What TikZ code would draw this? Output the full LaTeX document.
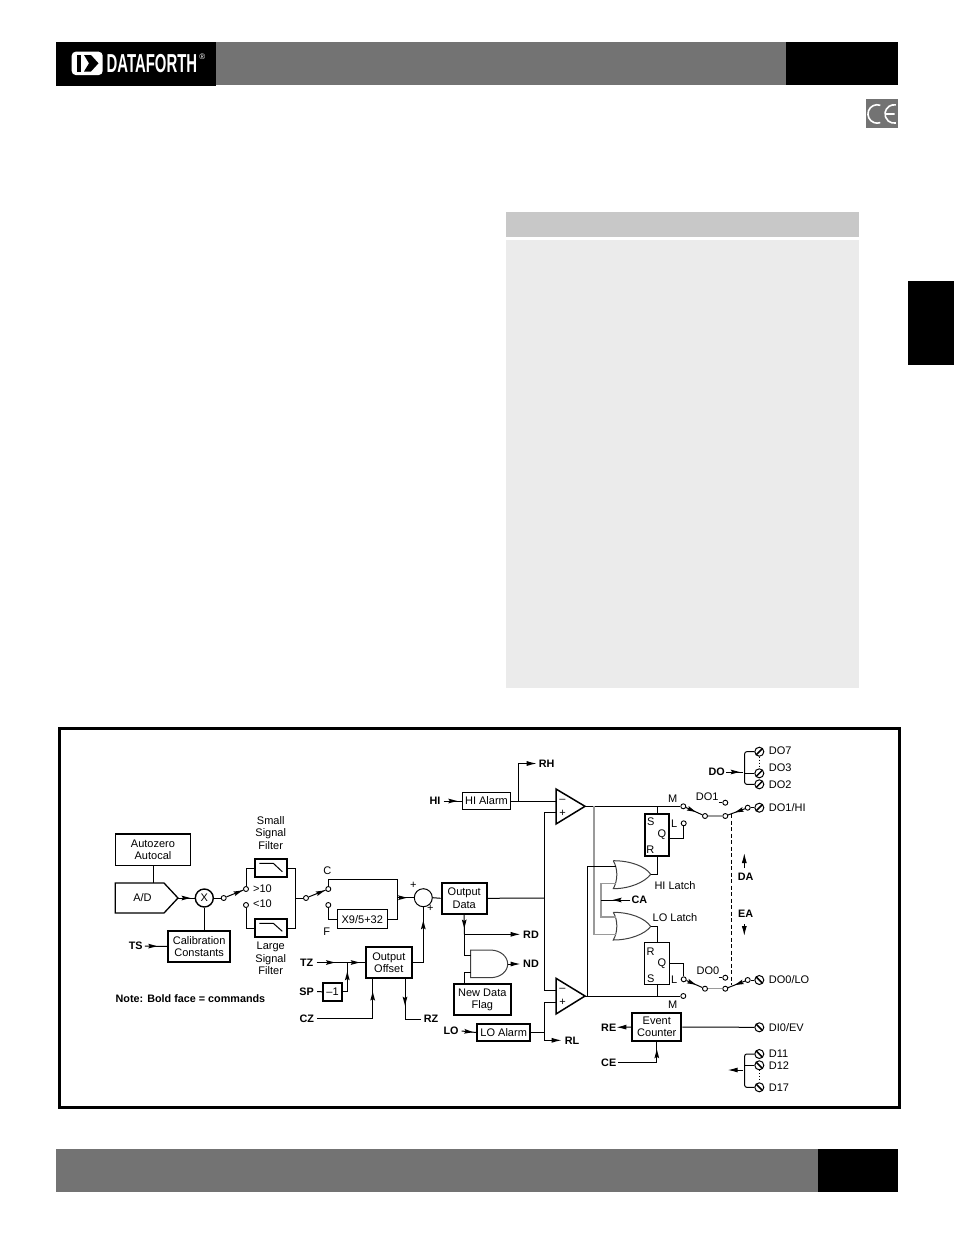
\documentclass[tikz,border=0pt]{standalone}
\usepackage{fontspec}
\setmainfont{Liberation Sans}
\usetikzlibrary{arrows.meta,decorations.markings}
\definecolor{hdr}{HTML}{737373}
\definecolor{wg}{HTML}{9A9A9A}
\definecolor{tblh}{HTML}{C8C8C8}
\definecolor{tblb}{HTML}{EBEBEB}
\tikzset{
  wire/.style={line width=1pt,draw=black},
  gwire/.style={line width=1.3pt,draw=wg},
  tipa/.style={-{Latex[length=10pt,width=5pt]}},
  marr/.style={postaction={decorate,decoration={markings,mark=at position #1 with {\fill[black] (-9pt,-2.4pt) -- (0pt,0pt) -- (-9pt,2.4pt) -- (-7.5pt,0pt) -- cycle;}}}},
  box/.style={draw,rectangle,inner sep=0pt,line width=1.3pt,align=center,font=\fontsize{11}{12.3}\selectfont,fill=white},
  tbox/.style={box,line width=2pt},
  nbox/.style={box,line width=1pt},
  lab/.style={inner sep=0pt,font=\fontsize{11}{12.3}\selectfont,align=center},
  blab/.style={inner sep=0pt,font=\fontsize{10.8}{12}\selectfont\bfseries,align=center},
  oc/.style={draw,circle,fill=white,inner sep=0pt,minimum size=5pt,line width=0.9pt},
  screwf/.style={draw,circle,fill=white,inner sep=0pt,minimum size=9pt,line width=1pt,
    path picture={\draw[line width=1.5pt] (path picture bounding box.south west)--(path picture bounding box.north east);}},
  screwb/.style={draw,circle,fill=white,inner sep=0pt,minimum size=9pt,line width=1pt,
    path picture={\draw[line width=1.5pt] (path picture bounding box.north west)--(path picture bounding box.south east);}},
  gate/.style={line width=1pt,draw=black!75,fill=white},
  tri/.style={line width=1.5pt,draw=black,fill=white},
}
\begin{document}
\begin{tikzpicture}[x=1pt,y=-1pt]
\useasboundingbox (0,0) rectangle (954,1235);
% page furniture
\fill[black] (55.7,42) rectangle (216,86);
\fill[hdr] (216,42) rectangle (786,85);
\fill[black] (786,42) rectangle (898,85);
\fill[hdr] (56,1149) rectangle (818,1192);
\fill[black] (818,1149) rectangle (898,1192);
\fill[hdr] (866,99) rectangle (897.5,128);
\draw[white,line width=1.6pt] (880.3,105.3) arc[start angle=-70,end angle=-290,radius=9.2];
\draw[white,line width=1.6pt] (895.8,104.9) arc[start angle=-80,end angle=-280,radius=9.2] (886,114) -- (894.5,114);
\fill[tblh] (506,212) rectangle (859,237);
\fill[tblb] (506,240) rectangle (859,688);
\fill[black] (908,281) rectangle (954,365);
% logo
\fill[white,rounded corners=4pt] (71.7,51.7) rectangle (102.7,75);
\fill[black] (76.5,55) rectangle (80.5,71.5);
\fill[black] (84,55) -- (91,55) -- (98.5,63.3) -- (91,71.5) -- (84,71.5) -- (89,63.3) -- cycle;
\node[white,inner sep=0pt,anchor=west] (logo) at (106.5,63.3) {\scalebox{0.573}[1.0]{\fontsize{26}{26}\selectfont\bfseries DATAFORTH}};
\node[white,inner sep=0pt] (reg) at (202.2,57) {\fontsize{8}{8}\selectfont ®};
% frame
\draw[line width=3pt] (59.5,728.5) rectangle (899,1107.5);
% gates and comparators
\coordinate (ortop) at (615.5,866.7);\coordinate (orbot) at (615.5,883.3);\coordinate (orout) at (650.7,874.3);
\coordinate (lotop) at (615.5,917);\coordinate (lobot) at (615.5,934.3);\coordinate (loout) at (650.7,926.5);
\path[gate] (613.3,860.7) .. controls (630,860.7) and (645,866) .. (650.7,874.3) .. controls (645,882) and (630,888.7) .. (613.3,888.7) .. controls (618,880) and (618,869) .. (613.3,860.7);
\path[gate] (613.3,912.3) .. controls (630,912.3) and (645,918) .. (650.7,926.5) .. controls (645,934) and (630,940) .. (613.3,940) .. controls (618,932) and (618,920) .. (613.3,912.3);
\path[gate] (470.7,950) -- (490,950) .. controls (501,950) and (507.7,957) .. (507.7,964) .. controls (507.7,971) and (501,977.7) .. (490,977.7) -- (470.7,977.7) -- cycle;
\path[tri] (556,789) -- (585,806.3) -- (556,824) -- cycle;
\path[tri] (556,978.3) -- (585,996) -- (556,1014) -- cycle;
\coordinate (c1out) at (585,806.3);\coordinate (c1m) at (556,801);\coordinate (c1p) at (556,812.7);
\coordinate (c2out) at (585,996);\coordinate (c2m) at (556,990);\coordinate (c2p) at (556,1002.3);
\coordinate (andin1) at (470.7,955);\coordinate (andin2) at (470.7,972.3);\coordinate (andout) at (507.7,964);
\node[lab] (c1minus) at (562.5,801) {–};\node[lab] (c1plus) at (562.5,813) {+};
\node[lab] (c2minus) at (562.5,990) {–};\node[lab] (c2plus) at (562.5,1002.5) {+};
% boxes
\node[box,minimum width=75.4pt,minimum height=31.3pt] (auto) at (153,849.7) {Autozero\\Autocal};
\path[box] (115.3,883) -- (164,883) -- (178,898) -- (164,913) -- (115.3,913) -- cycle;
\node[lab] (ad) at (142.5,898) {A/D};
\coordinate (adtip) at (178,898);\coordinate (adtop) at (153,883);
\node[box,circle,minimum size=18pt,line width=1.4pt] (mult) at (204.3,898) {X};
\node[tbox,minimum width=61.7pt,minimum height=31pt] (cal) at (199.2,946.5) {Calibration\\Constants};
\node[tbox,minimum width=32pt,minimum height=18pt] (sf) at (270.7,868) {};
\node[tbox,minimum width=32pt,minimum height=18pt] (lf) at (270.7,928) {};
\draw[line width=1pt] (259.3,863.3) -- (273.3,863.3) -- (282.3,871.7);
\draw[line width=1pt] (259.3,923.3) -- (273.3,923.3) -- (282.3,931.3);
\node[nbox,minimum width=50pt,minimum height=18.7pt] (conv) at (362.3,919.3) {X9/5+32};
\node[box,circle,minimum size=18pt,line width=1pt] (sum) at (423.3,897.7) {};
\node[tbox,minimum width=45pt,minimum height=31.3pt] (odata) at (464.2,898.3) {Output\\Data};
\node[tbox,minimum width=45.7pt,minimum height=31.6pt] (ooff) at (388.8,962.5) {Output\\Offset};
\node[tbox,minimum width=18.4pt,minimum height=18.3pt] (neg) at (332.5,991.8) {–1};
\node[tbox,minimum width=57.3pt,minimum height=31.6pt] (flag) at (482.3,999.5) {New Data\\Flag};
\node[nbox,minimum width=48.4pt,minimum height=16.6pt] (hia) at (486.5,801) {HI Alarm};
\node[tbox,minimum width=53.3pt,minimum height=17.6pt] (loa) at (503.7,1032.5) {LO Alarm};
\node[tbox,minimum width=49pt,minimum height=28.6pt] (evt) at (656.8,1027) {Event\\Counter};
\node[box,line width=1.8pt,minimum width=24.6pt,minimum height=41.7pt] (sr1) at (657,834.9) {};
\node[box,line width=1pt,minimum width=24.6pt,minimum height=41.6pt] (sr2) at (657,963.5) {};
\node[lab] (s1) at (650.7,821.7) {S};\node[lab] (q1) at (662,835) {Q};\node[lab] (r1) at (650.3,849.3) {R};
\node[lab] (r2) at (650.5,952) {R};\node[lab] (q2) at (662,963.5) {Q};\node[lab] (s2) at (650.7,978.3) {S};
% terminals
\node[oc] (a1) at (223.7,898) {};
\node[oc] (g10) at (246,889) {};
\node[oc] (l10) at (246,905) {};
\node[oc] (a2) at (306,898) {};
\node[oc] (cc) at (328.3,889) {};
\node[oc] (ff) at (328.3,905) {};
\node[oc] (m1) at (683.3,806.3) {};
\node[oc] (l1) at (683.7,823.3) {};
\node[oc] (p1) at (705,816) {};
\node[oc] (p2) at (725.3,816) {};
\node[oc] (do1c) at (725.3,802.7) {};
\node[oc] (t1) at (747.7,807.7) {};
\node[screwf] (hi) at (759.3,807.7) {};
\node[oc] (l2) at (683.7,979.3) {};
\node[oc] (m2) at (683.3,996) {};
\node[oc] (p3) at (705,988.7) {};
\node[oc] (p4) at (725.3,988.7) {};
\node[oc] (do0c) at (725.3,977.7) {};
\node[oc] (t2) at (747.7,980) {};
\node[screwb] (lo) at (759.3,980) {};
\node[screwf] (do7) at (759.3,751.7) {};
\node[screwf] (do3) at (759.3,773.3) {};
\node[screwf] (do2) at (759.3,784.3) {};
\node[screwb] (ev) at (759.3,1027.3) {};
\node[screwb] (d11) at (759.3,1054) {};
\node[screwb] (d12) at (759.3,1065.3) {};
\node[screwb] (d17) at (759.3,1087.3) {};
% text labels
\node[lab] (lsmall) at (270.7,833) {Small\\Signal\\Filter};
\node[lab] (llarge) at (270.7,958.5) {Large\\Signal\\Filter};
\node[lab,anchor=west] (gt) at (253,888.7) {>10};
\node[lab,anchor=west] (lt) at (253,904) {<10};
\node[lab] (lc) at (327.3,870.7) {C};
\node[lab] (lf2) at (326.7,931.3) {F};
\node[lab] (pl1) at (413.3,885.7) {+};
\node[lab] (pl2) at (430.3,908) {+};
\node[lab] (lm1) at (672.7,798.3) {M};
\node[lab] (ll1) at (674.3,824) {L};
\node[lab] (ll2) at (674.3,980) {L};
\node[lab] (lm2) at (672.7,1005) {M};
\node[lab] (ldo1) at (707.3,796.7) {DO1};
\node[lab] (ldo0) at (708,971) {DO0};
\node[lab,anchor=west] (tdo7) at (768.7,750.7) {DO7};
\node[lab,anchor=west] (tdo3) at (768.7,767.7) {DO3};
\node[lab,anchor=west] (tdo2) at (768.7,785) {DO2};
\node[lab,anchor=west] (thi) at (768.7,807.7) {DO1/HI};
\node[lab,anchor=west] (tlo) at (768.7,980) {DO0/LO};
\node[lab,anchor=west] (tev) at (768.7,1027.3) {DI0/EV};
\node[lab,anchor=west] (td11) at (768.7,1053.3) {D11};
\node[lab,anchor=west] (td12) at (768.7,1065.3) {D12};
\node[lab,anchor=west] (td17) at (768.7,1087.7) {D17};
\node[lab] (lhl) at (675,885.5) {HI Latch};
\node[lab] (lll) at (675,917.5) {LO Latch};
\node[blab,anchor=west] (note) at (115.5,998.3) {Note: Bold face = commands};
\node[blab] (ts) at (135.7,946) {TS};
\node[blab] (tz) at (306.7,962.5) {TZ};
\node[blab] (sp) at (306.7,991.5) {SP};
\node[blab] (cz) at (306.7,1018.3) {CZ};
\node[blab] (rz) at (431,1019) {RZ};
\node[blab] (rd) at (531,934.3) {RD};
\node[blab] (nd) at (531,964) {ND};
\node[blab] (rh) at (546.7,763.5) {RH};
\node[blab] (hil) at (435,801) {HI};
\node[blab] (lol) at (451,1031) {LO};
\node[blab] (rl) at (572,1040.3) {RL};
\node[blab] (ca) at (639.3,900) {CA};
\node[blab] (re) at (608.7,1027.3) {RE};
\node[blab] (ce) at (608.7,1062.3) {CE};
\node[blab] (do) at (716.7,772) {DO};
\node[blab] (da) at (745.7,876.7) {DA};
\node[blab] (ea) at (745.7,913.3) {EA};
% junctions
\coordinate (jf) at (295.3,898);
\coordinate (jin) at (397,897.7);
\coordinate (jbus) at (544.3,898);
\coordinate (jdown) at (464.3,934.3);
\coordinate (jtz) at (347.3,962.5);
\coordinate (jrh) at (518.7,801);
\coordinate (jlo) at (544.3,1032.3);
\coordinate (jca) at (601,900);
% wires
\draw[wire] (auto.south -| adtop) -- (adtop);
\draw[wire,marr=0.75] (adtip) -- (mult.west);
\draw[wire] (mult.south) -- (mult.south |- cal.north);
\draw[wire] (mult.east) -- (a1.west);
\draw[wire,marr=0.95] (a1) -- (g10);
\draw[wire,marr=0.55] (ts.east) ++(2,0) -- (cal.west);
\draw[wire] (g10.north) |- (sf.west);
\draw[wire] (l10.south) |- (lf.west);
\draw[wire] (sf.east) -| (jf) |- (lf.east);
\draw[wire] (jf) -- (a2.west);
\draw[wire,marr=0.95] (a2) -- (cc);
\draw[wire] (cc.north) |- (397,879.7) -- (jin);
\draw[wire] (ff.south) |- (conv.west);
\draw[wire] (conv.east) -| (jin);
\draw[wire,marr=0.6] (jin) -- (sum.west);
\draw[wire] (sum.east) -- (odata.west);
\draw[wire] (odata.east) -- (jbus);
\draw[wire,marr=0.7] (odata.south) -- (jdown);
\draw[wire,tipa,shorten >=2.5pt] (jdown) -- (rd.west);
\draw[wire] (jdown) |- (andin1);
\draw[wire] (flag.north -| 464.3,0) |- (andin2);
\draw[wire,tipa,shorten >=2.5pt] (andout) -- (nd.west);
\draw[wire,marr=0.6] (tz.east) ++(3,0) -- (jtz);
\draw[wire,marr=0.7] (jtz) -- (ooff.west);
\draw[wire] (sp.east) ++(3,0) -- (neg.west);
\draw[wire,marr=0.74] (neg.east) -| (jtz);
\draw[wire,marr=0.87] (cz.east) ++(3,0) -| (ooff.south -| 372.7,0);
\draw[wire,marr=0.8] (ooff.east) -| (sum.south);
\draw[wire,marr=0.45,shorten >=2.5pt] (ooff.south -| 405,0) |- (rz.west);
\draw[wire,marr=0.75] (hil.east) ++(3,0) -- (hia.west);
\draw[wire] (hia.east) -- (c1m);
\draw[wire,tipa,shorten >=2pt] (jrh) |- (rh.west);
\draw[wire] (c1p) -| (jbus);
\draw[wire] (jbus) |- (c2m);
\draw[wire,marr=0.8] (lol.east) ++(3,0) -- (loa.west);
\draw[wire] (loa.east |- jlo) -- (jlo);
\draw[wire] (c2p) -| (jlo);
\draw[wire,tipa,shorten >=3pt] (jlo) |- (rl.west);
\draw[wire] (c1out) -- (m1.west);
\draw[wire] (c2out) -- (m2.west);
\draw[gwire] (594,806.3) |- (lobot);
\draw[wire] (587.7,996) |- (ortop);
\draw[gwire] (jca) |- (orbot);
\draw[gwire] (jca) |- (lotop);
\draw[wire,marr=0.6] (ca.west) ++(-1,0) -- (jca);
\draw[wire] (sr1.north |- c1out) -- (sr1.north);
\draw[wire] (orout) -| (sr1.south);
\draw[wire] (sr2.south) -- (sr2.south |- c2out);
\draw[wire] (loout) -| (sr2.north);
\draw[wire] (sr1.east |- 0,838.3) -| (l1.south);
\draw[wire] (sr2.east |- q2) -| (l2.north);
\draw[wire,marr=0.6] (m1) -- (p1);
\draw[gwire] (p1) -- (p2);
\draw[wire,marr=0.6] (t1) -- (p2);
\draw[wire] (t1) -- (hi);
\draw[wire] (718.5,802.7) -- (do1c.west);
\draw[wire,marr=0.6] (l2) -- (p3);
\draw[gwire] (p3) -- (p4);
\draw[wire,marr=0.6] (t2) -- (p4);
\draw[wire] (t2) -- (lo);
\draw[wire] (718.5,977.7) -- (do0c.west);
\draw[wire,dashed,dash pattern=on 4pt off 2.5pt] (731.7,814) -- (731.7,985);
\coordinate (daa) at (744.3,868);\coordinate (dab) at (744.3,853);
\coordinate (eaa) at (744.3,924);\coordinate (eab) at (744.3,936);
\draw[wire,tipa] (daa) -- (dab);
\draw[wire,tipa] (eaa) -- (eab);
\draw[wire,tipa] (evt.west) -- (re.east);
\draw[wire,marr=0.88] (ce.east) ++(2,0) -| (evt.south);
\draw[wire] (evt.east) -- (ev.west);
% DO bus
\coordinate (bdo) at (743,772);
\draw[wire,marr=0.8] (do.east) ++(1,0) -- (bdo);
\draw[wire,rounded corners=2pt] (do7.west) -- (744.7,751.7) -- (744.7,784.3) -- (do2.west);
\draw[wire] (744.7,773.3) -- (do3.west);
\draw[wire,dotted] (do7.south) -- (do3.north);
\coordinate (bdi) at (743,1070);\coordinate (bdo2) at (727.7,1070);
\draw[wire,tipa] (bdi) -- (bdo2);
\draw[wire,rounded corners=2pt] (d11.west) -- (744.7,1054) -- (744.7,1087.3) -- (d17.west);
\draw[wire] (744.7,1065.3) -- (d12.west);
\draw[wire,dotted] (d12.south) -- (d17.north);
\end{tikzpicture}
\end{document}
